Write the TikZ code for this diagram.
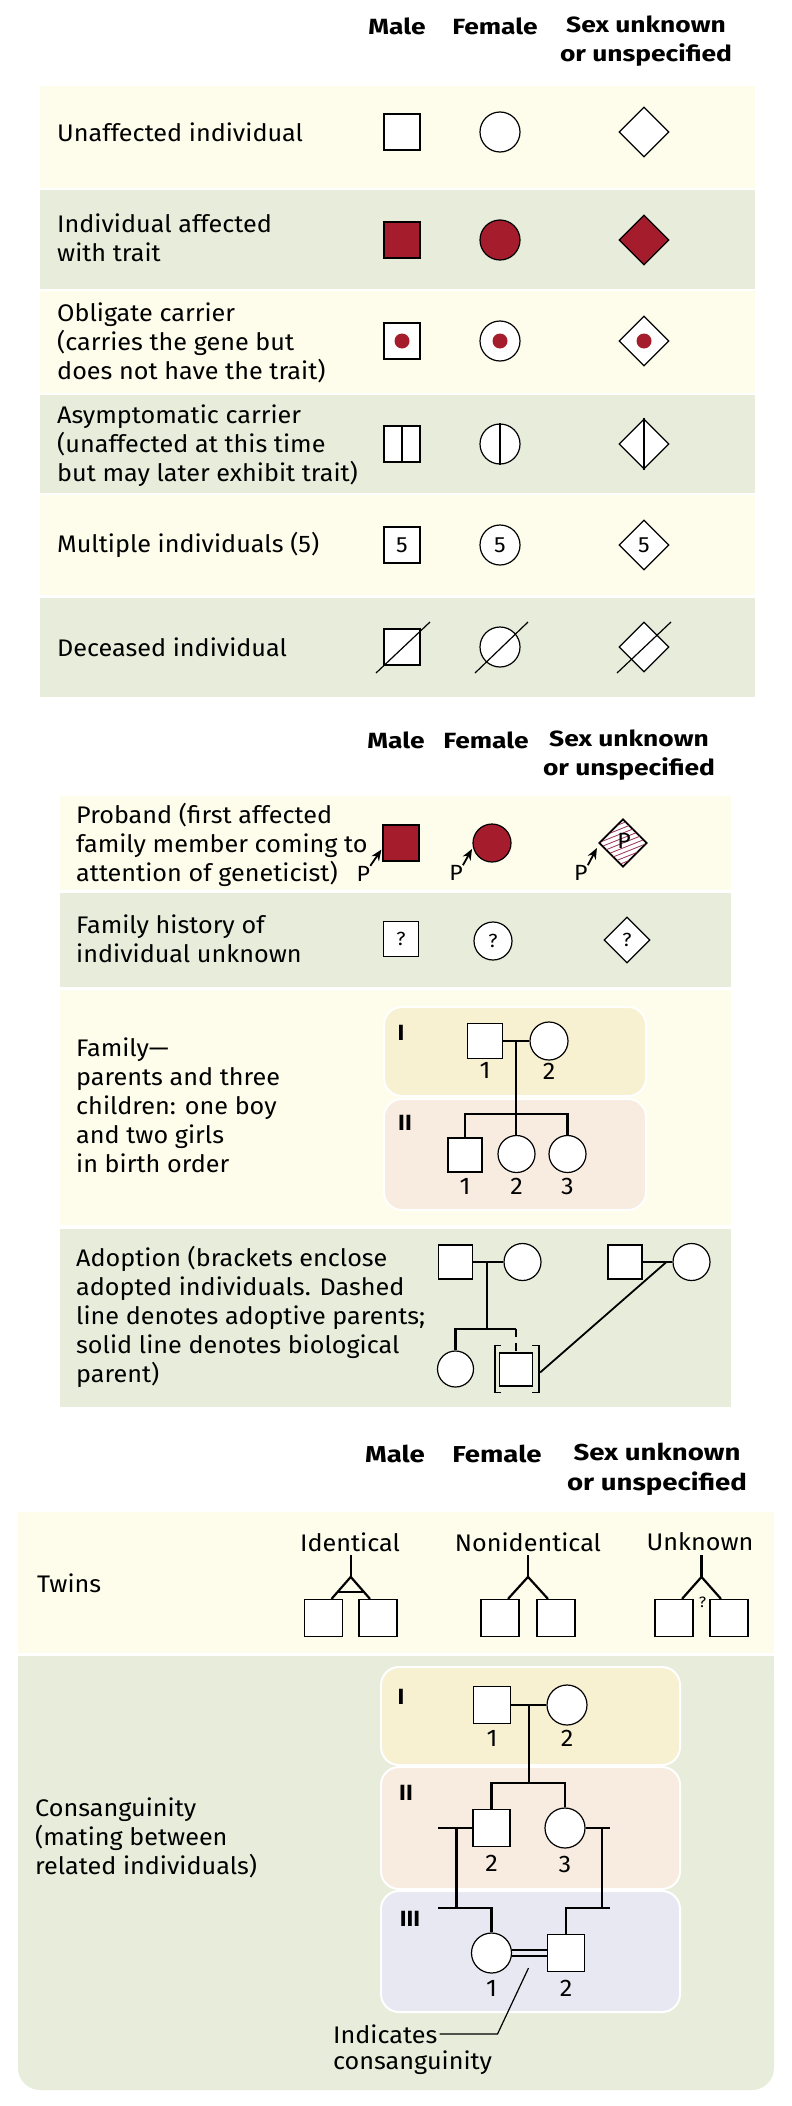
\documentclass[tikz,border=0pt]{standalone}
\usepackage{fontspec}
\setmainfont{Fira Sans}[FakeStretch=1.05]
\newfontfamily\headfont{Fira Sans}[FakeStretch=1.2]
\usepackage{tikz}
\usetikzlibrary{arrows.meta,shapes.geometric,positioning,calc}

\definecolor{yellowrow}{RGB}{254,253,236}
\definecolor{greenrow}{RGB}{232,237,219}
\definecolor{bandone}{RGB}{247,240,209}
\definecolor{bandtwo}{RGB}{248,235,224}
\definecolor{bandthree}{RGB}{232,232,243}
\definecolor{trait}{RGB}{165,28,44}
\definecolor{hatchred}{RGB}{150,45,80}

\begin{document}
\begin{tikzpicture}[
    x=1pt, y=-1pt,
    >=Stealth,
    head/.style={font=\headfont\fontsize{22}{29}\selectfont\bfseries, align=center, inner sep=0},
    bighead/.style={head, font=\headfont\fontsize{23}{30}\selectfont\bfseries},
    rowtext/.style={font=\fontsize{24}{29}\selectfont, anchor=west, align=left, inner sep=0},
    sym/.style={draw, line width=1.2pt, fill=white, inner sep=0},
    male/.style={sym, rectangle, minimum size=36},
    female/.style={sym, circle, minimum size=40},
    unknown/.style={sym, diamond, minimum width=50, minimum height=50},
    affected/.style={fill=trait},
    carrierdot/.style={circle, fill=trait, minimum size=15, inner sep=0},
    symline/.style={line width=1.2pt},
    symfont/.style={font=\fontsize{22}{22}\selectfont},
    qfont/.style={font=\fontsize{19}{19}\selectfont},
    ptext/.style={font=\fontsize{22}{22}\selectfont, inner sep=0},
    parrow/.style={-{Stealth[length=11pt,width=9pt]}, line width=1.8pt},
    hatchline/.style={hatchred, line width=0.8pt},
    kin/.style={line width=2.2pt},
    bracket/.style={line width=1.4pt},
    band/.style={draw=white, line width=2pt, rounded corners=18},
    gen/.style={font=\fontsize{22}{22}\selectfont\bfseries, inner sep=0},
    num/.style={font=\fontsize{24}{24}\selectfont, inner sep=0},
    pointer/.style={line width=1.2pt}
]

\useasboundingbox (0,0) rectangle (792,2106);

% ---------- Symbols: headings
\node[head] (hmale1) at (397,26) {Male};
\node[head] (hfemale1) at (495,26) {Female};
\node[head] (hsex1) at (646,41) {Sex unknown\\or unspecified};

% Rows
\fill[yellowrow] (40,86) rectangle (755,188);
\fill[greenrow] (40,190) rectangle (755,289);
\fill[yellowrow] (40,291) rectangle (755,393);
\fill[greenrow] (40,395) rectangle (755,493);
\fill[yellowrow] (40,495) rectangle (755,595);
\fill[greenrow] (40,598) rectangle (755,697);

% Unaffected
\node[rowtext] (tunaff) at (57,132) {Unaffected individual};
\node[male] (m1) at (402,132) {};
\node[female] (f1) at (500,132) {};
\node[unknown] (u1) at (644,132) {};

% Affected
\node[rowtext] (taff) at (57,238) {Individual affected\\with trait};
\node[male, affected] (m2) at (402,240) {};
\node[female, affected] (f2) at (500,240) {};
\node[unknown, affected] (u2) at (644,240) {};

% Obligate carrier
\node[rowtext] (toblig) at (57,343) {Obligate carrier\\(carries the gene but\\does not have the trait)};
\node[male] (m3) at (402,341) {};
\node[female] (f3) at (500,341) {};
\node[unknown] (u3) at (644,341) {};
\node[carrierdot] (m3dot) at (m3) {};
\node[carrierdot] (f3dot) at (f3) {};
\node[carrierdot] (u3dot) at (u3) {};

% Asymptomatic carrier
\node[rowtext] (tasym) at (57,446) {Asymptomatic carrier\\(unaffected at this time\\but may later exhibit trait)};
\node[male] (m4) at (402,444) {};
\node[female] (f4) at (500,444) {};
\node[unknown] (u4) at (644,444) {};
\draw[symline] (m4.north) -- (m4.south);
\draw[symline] (f4.north) -- (f4.south);
\draw[symline] (u4.north) -- (u4.south);

% Multiple individuals
\node[rowtext] (tmult) at (57,545) {Multiple individuals (5)};
\node[male, symfont] (m5) at (402,545) {5};
\node[female, symfont] (f5) at (500,545) {5};
\node[unknown, symfont] (u5) at (644,545) {5};

% Deceased
\node[rowtext] (tdec) at (57,647) {Deceased individual};
\node[male] (m6) at (402,647) {};
\node[female] (f6) at (500,647) {};
\node[unknown] (u6) at (644,647) {};
\draw[symline] ([shift={(-26,26)}]m6.center) -- ([shift={(28,-25)}]m6.center);
\draw[symline] ([shift={(-25,26)}]f6.center) -- ([shift={(28,-25)}]f6.center);
\draw[symline] ([shift={(-27,26)}]u6.center) -- ([shift={(27,-25)}]u6.center);

% ---------- Proband and families: headings
\node[head] (hmale2) at (396,740) {Male};
\node[head] (hfemale2) at (486,740) {Female};
\node[head] (hsex2) at (629,755) {Sex unknown\\or unspecified};

% Rows
\fill[yellowrow] (60,796) rectangle (731,890);
\fill[greenrow] (60,893) rectangle (731,987);
\fill[yellowrow] (60,990) rectangle (731,1225);
\fill[greenrow] (60,1229) rectangle (731,1407);

% Proband
\node[rowtext] (tprob) at (76,845) {Proband (first affected\\family member coming to\\attention of geneticist)};
\node[male, affected] (pm) at (401,843) {};
\node[female, affected, minimum size=38] (pf) at (492,843) {};
\node[unknown, minimum width=47, minimum height=47] (pu) at (623,843) {};
\begin{scope}
    \clip (pu.north) -- (pu.east) -- (pu.south) -- (pu.west) -- cycle;
    \foreach \k in {-50,-45,...,50}
        \draw[hatchline] ([shift={(-30,\k+12)}]pu.center) -- ([shift={(30,\k-12)}]pu.center);
\end{scope}
\draw[symline] (pu.north) -- (pu.east) -- (pu.south) -- (pu.west) -- cycle;
\node[ptext] (puin) at ([shift={(1,-2)}]pu.center) {P};

\coordinate (pmtip) at ([shift={(-1,-12)}]pm.south west);
\coordinate (pftip) at ([shift={(-20,6)}]pf.center);
\coordinate (putip) at ([shift={(-2,5)}]pu.west);
\node[ptext] (pmP) at ([shift={(-18,24)}]pmtip) {P};
\node[ptext] (pfP) at ([shift={(-16,24)}]pftip) {P};
\node[ptext] (puP) at ([shift={(-16,25)}]putip) {P};
\draw[parrow] (pmP.north east) -- (pmtip);
\draw[parrow] (pfP.north east) -- (pftip);
\draw[parrow] (puP.north east) -- (putip);

% Family history unknown
\node[rowtext] (thist) at (76,939) {Family history of\\individual unknown};
\node[male, minimum size=35, qfont] (hm) at (401,939) {?};
\node[female, minimum size=38, qfont] (hf) at (493,941) {?};
\node[unknown, minimum width=46, minimum height=46, qfont] (hu) at (627,940) {?};

% Family
\node[rowtext] (tfam) at (76,1105) {Family—\\parents and three\\children: one boy\\and two girls\\in birth order};
\draw[band, fill=bandone] (384,1007) rectangle (646,1096);
\draw[band, fill=bandtwo] (384,1099) rectangle (646,1210);
\node[gen] (fgI) at (401,1033) {I};
\node[gen] (fgII) at (405,1123) {II};
\node[male, minimum size=35] (fm1) at (485,1041) {};
\node[female, minimum size=38] (ff1) at (549,1041) {};
\node[male, minimum size=34] (fc1) at (465,1155) {};
\node[female, minimum size=37] (fc2) at (516.5,1154) {};
\node[female, minimum size=37] (fc3) at (567.5,1154) {};
\coordinate (fmid) at ($(fm1.east)!0.5!(ff1.west)$);
\coordinate (fsib) at ($(fmid)+(0,73)$);
\draw[kin] (fm1.east) -- (ff1.west);
\draw[kin] (fmid) -- (fmid |- fc2.north);
\draw[kin] (fc1.north) |- (fsib) -| (fc3.north);
\node[num, below=3pt of fm1] (fn1) {1};
\node[num, below=2pt of ff1] (fn2) {2};
\node[num, below=6pt of fc1] (fcn1) {1};
\node[num, below=5pt of fc2] (fcn2) {2};
\node[num, below=5pt of fc3] (fcn3) {3};

% Adoption
\node[rowtext] (tadopt) at (76,1317) {Adoption (brackets enclose\\adopted individuals. Dashed\\line denotes adoptive parents;\\solid line denotes biological\\parent)};
\node[male, minimum size=34] (am1) at (455.5,1262) {};
\node[female, minimum size=37] (af1) at (522.5,1262) {};
\node[male, minimum size=34] (am2) at (625,1262) {};
\node[female, minimum size=37] (af2) at (691.5,1262) {};
\node[female, minimum size=36] (ac1) at (455.5,1369) {};
\node[male, minimum size=33] (ac2) at (516,1369.5) {};
\coordinate (amid) at ($(am1.east)!0.45!(af1.west)$);
\coordinate (asib) at ($(amid)+(0,67)$);
\draw[kin] (am1.east) -- (af1.west);
\draw[kin] (am2.east) -- (af2.west);
\draw[kin] (amid) -- (asib);
\draw[kin] (ac1.north) |- (ac2.north |- asib);
\draw[kin, dash pattern=on 8pt off 6pt] (ac2.north |- asib) -- (ac2.north);
\draw[bracket] ([shift={(2,-7)}]ac2.north west) -- ++(-6,0) -- ++(0,47) -- ++(6,0);
\draw[bracket] ([shift={(-1,-7)}]ac2.north east) -- ++(7,0) -- ++(0,47) -- ++(-7,0);
\draw[kin, line width=1.8pt] ($(am2.east)!0.8!(af2.west)$) -- ([shift={(7,3)}]ac2.east);

% ---------- Twins and consanguinity: headings
\node[bighead] (hmale3) at (395,1454) {Male};
\node[bighead] (hfemale3) at (497,1454) {Female};
\node[bighead] (hsex3) at (657,1469) {Sex unknown\\or unspecified};

% Rows
\fill[yellowrow] (18,1512) rectangle (774,1653);
\fill[greenrow, rounded corners=22] (18,1656) rectangle (774,2090);
\fill[greenrow] (18,1656) rectangle (774,1700);

% Twins
\node[rowtext] (ttwins) at (37,1583) {Twins};

\node[rowtext, anchor=center] (tident) at (350,1542) {Identical};
\node[male, minimum width=38, minimum height=37] (ti1) at (323.5,1618) {};
\node[male, minimum width=38, minimum height=37] (ti2) at (378,1618) {};
\coordinate (tileg1) at ([xshift=8pt]ti1.north);
\coordinate (tileg2) at ([xshift=-8pt]ti2.north);
\coordinate (tiapex) at ($(tileg1)!0.5!(tileg2)+(0,-22)$);
\draw[kin] (tileg1) -- (tiapex) -- (tileg2);
\draw[kin] (tiapex) -- ++(0,-22);
\draw[kin] ($(tiapex)!0.68!(tileg1)$) -- ($(tiapex)!0.68!(tileg2)$);

\node[rowtext, anchor=center] (tnonid) at (528,1542) {Nonidentical};
\node[male, minimum width=38, minimum height=37] (tn1) at (500,1618) {};
\node[male, minimum width=38, minimum height=37] (tn2) at (556,1618) {};
\coordinate (tnleg1) at ([xshift=8pt]tn1.north);
\coordinate (tnleg2) at ([xshift=-8pt]tn2.north);
\coordinate (tnapex) at ($(tnleg1)!0.5!(tnleg2)+(0,-22)$);
\draw[kin] (tnleg1) -- (tnapex) -- (tnleg2);
\draw[kin] (tnapex) -- ++(0,-22);

\node[rowtext, anchor=center] (tunkn) at (700,1542) {Unknown};
\node[male, minimum width=38, minimum height=37] (tu1) at (674,1618) {};
\node[male, minimum width=38, minimum height=37] (tu2) at (729,1618) {};
\coordinate (tuleg1) at ([xshift=8pt]tu1.north);
\coordinate (tuleg2) at ([xshift=-8pt]tu2.north);
\coordinate (tuapex) at ($(tuleg1)!0.5!(tuleg2)+(0,-22)$);
\draw[kin] (tuleg1) -- (tuapex) -- (tuleg2);
\draw[kin] (tuapex) -- ++(0,-22);
\node[font=\fontsize{15}{15}\selectfont, inner sep=0] (tuq) at ($(tuapex)+(1,25)$) {?};

% Consanguinity
\node[rowtext] (tcons) at (35,1838) {Consanguinity\\(mating between\\related individuals)};
\draw[band, fill=bandone] (381,1667) rectangle (680,1765);
\draw[band, fill=bandtwo] (381,1767) rectangle (680,1889);
\draw[band, fill=bandthree] (381,1891) rectangle (680,2012);
\node[gen] (cgI) at (401,1697) {I};
\node[gen] (cgII) at (406,1793) {II};
\node[gen] (cgIII) at (410,1919) {III};

\node[male, minimum size=37] (cm1) at (492,1705) {};
\node[female, minimum size=40] (cf1) at (567,1705) {};
\node[male, minimum size=37] (cm2) at (491.5,1828) {};
\node[female, minimum size=40] (cf2) at (565,1828) {};
\node[female, minimum size=40] (cf3) at (491.5,1953) {};
\node[male, minimum size=37] (cm3) at (566,1953) {};

\coordinate (cmid) at ($(cm1.east)!0.5!(cf1.west)$);
\coordinate (csib) at ($(cmid)+(0,78)$);
\draw[kin] (cm1.east) -- (cf1.west);
\draw[kin] (cmid) -- (csib);
\draw[kin] (cm2.north) |- (csib) -| (cf2.north);

\coordinate (clt) at ($(cm2.west)+(-16,0)$);
\coordinate (clb) at ($(clt)+(0,80)$);
\coordinate (crt) at ($(cf2.east)+(16,0)$);
\coordinate (crb) at ($(crt)+(0,80)$);
\draw[kin] ($(cm2.west)+(-34,0)$) -- (cm2.west);
\draw[kin] (cf2.east) -- ($(cf2.east)+(24,0)$);
\draw[kin] (clt) -- (clb);
\draw[kin] (crt) -- (crb);
\draw[kin] ($(clb)+(-18,0)$) -| (cf3.north);
\draw[kin] ($(crb)+(8,0)$) -| (cm3.north);

\draw[line width=1.6pt] ([yshift=3pt]cf3.east) -- ([yshift=3pt]cm3.west);
\draw[line width=1.6pt] ([yshift=-3pt]cf3.east) -- ([yshift=-3pt]cm3.west);

\node[num, below=6pt of cm1] (cn1) {1};
\node[num, below=4pt of cf1] (cn2) {2};
\node[num, below=8pt of cm2] (cn3) {2};
\node[num, below=7pt of cf2] (cn4) {3};
\node[num, below=7pt of cf3] (cn5) {1};
\node[num, below=8pt of cm3] (cn6) {2};

% Consanguinity pointer
\node[rowtext] (cind) at (333,2034) {Indicates};
\node[rowtext] (ccons) at (333,2063) {consanguinity};
\coordinate (cdmid) at ($(cf3.east)!0.5!(cm3.west)$);
\coordinate (ctip) at ($(cdmid)+(-1,15)$);
\coordinate (cbend) at ($(cdmid)+(-32,81)$);
\draw[pointer] (ctip) -- (cbend) -- ([xshift=2pt]cind.east);

\end{tikzpicture}
\end{document}
